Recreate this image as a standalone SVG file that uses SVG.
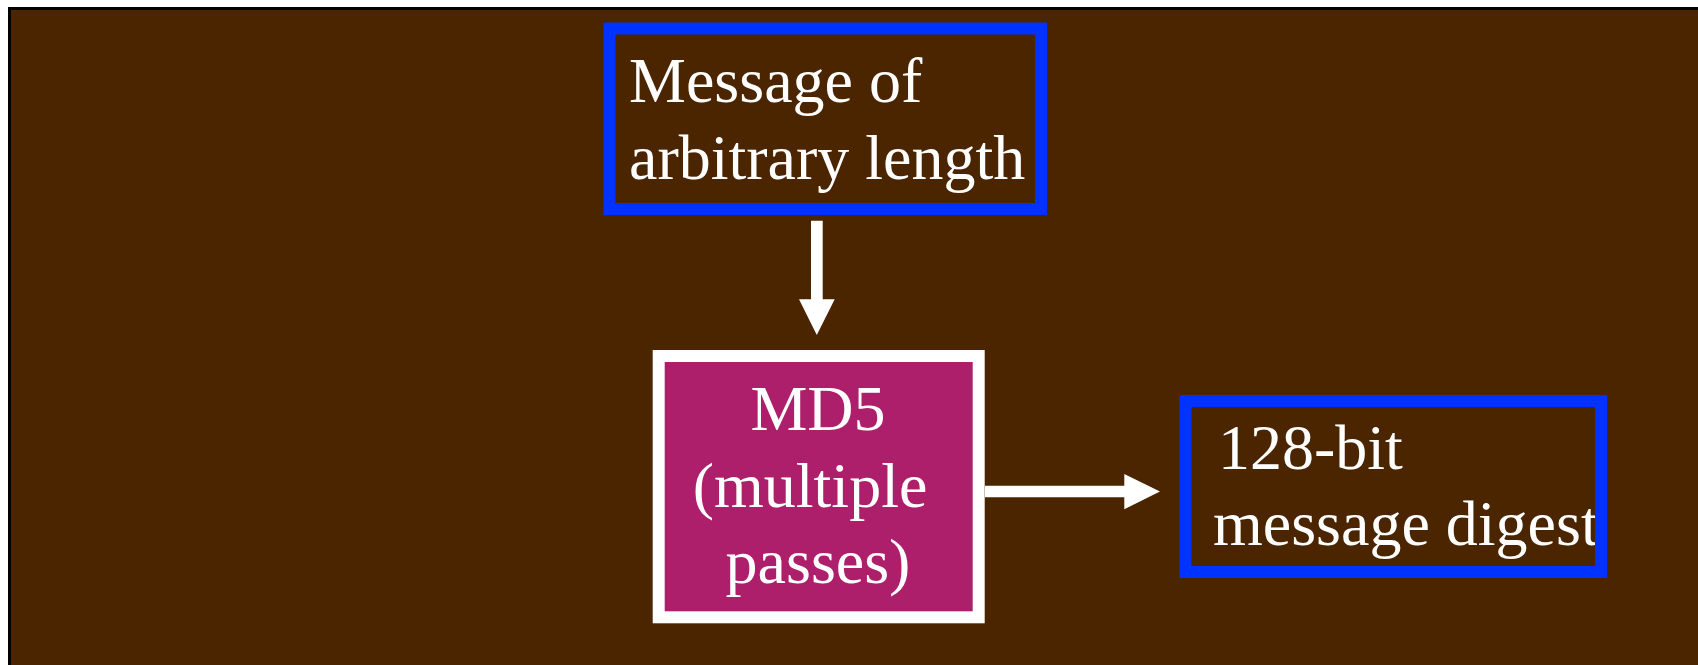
<svg xmlns="http://www.w3.org/2000/svg" width="1698" height="665" viewBox="0 0 1698 665">
<style>
.bg{fill:#4A2500;stroke:#000;stroke-width:3}
.box{fill:none;stroke:#0033FF;stroke-width:12}
.md5{fill:#AD1F6B;stroke:#FFFFFF;stroke-width:12}
.t{font-family:"Liberation Serif","Times New Roman",serif;font-size:64px;fill:#FFFFFF}
.arrow{fill:#FFFFFF;stroke:none}
</style>
<rect x="0" y="0" width="1698" height="665" fill="#FFFFFF"/>
<rect class="bg" x="9.5" y="8.5" width="1700" height="700"/>
<g id="node-message">
<rect class="box" x="609.5" y="28.5" width="431.5" height="180.5"/>
<text class="t" x="629" y="101.5">Message of</text>
<text class="t" x="629" y="178.5">arbitrary length</text>
</g>
<g id="node-md5">
<rect class="md5" x="658.7" y="356" width="320" height="261.3"/>
<text class="t" text-anchor="middle" x="818" y="430">MD5</text>
<text class="t" text-anchor="middle" x="810" y="506.7">(multiple</text>
<text class="t" text-anchor="middle" x="818" y="583.3">passes)</text>
</g>
<g id="node-digest">
<text class="t" x="1218" y="468.5">128-bit</text>
<text class="t" x="1213" y="545">message digest</text>
<rect class="box" x="1185.5" y="401" width="415.5" height="171"/>
</g>
<g id="connectors">
<path class="arrow" d="M811 220.7 H822.7 V299.3 H834.7 L816.8 335 L799 299.3 H811 Z"/>
<path class="arrow" d="M985 485.7 H1124.3 V474 L1160 491.6 L1124.3 509.3 V497.3 H985 Z"/>
</g>
</svg>
